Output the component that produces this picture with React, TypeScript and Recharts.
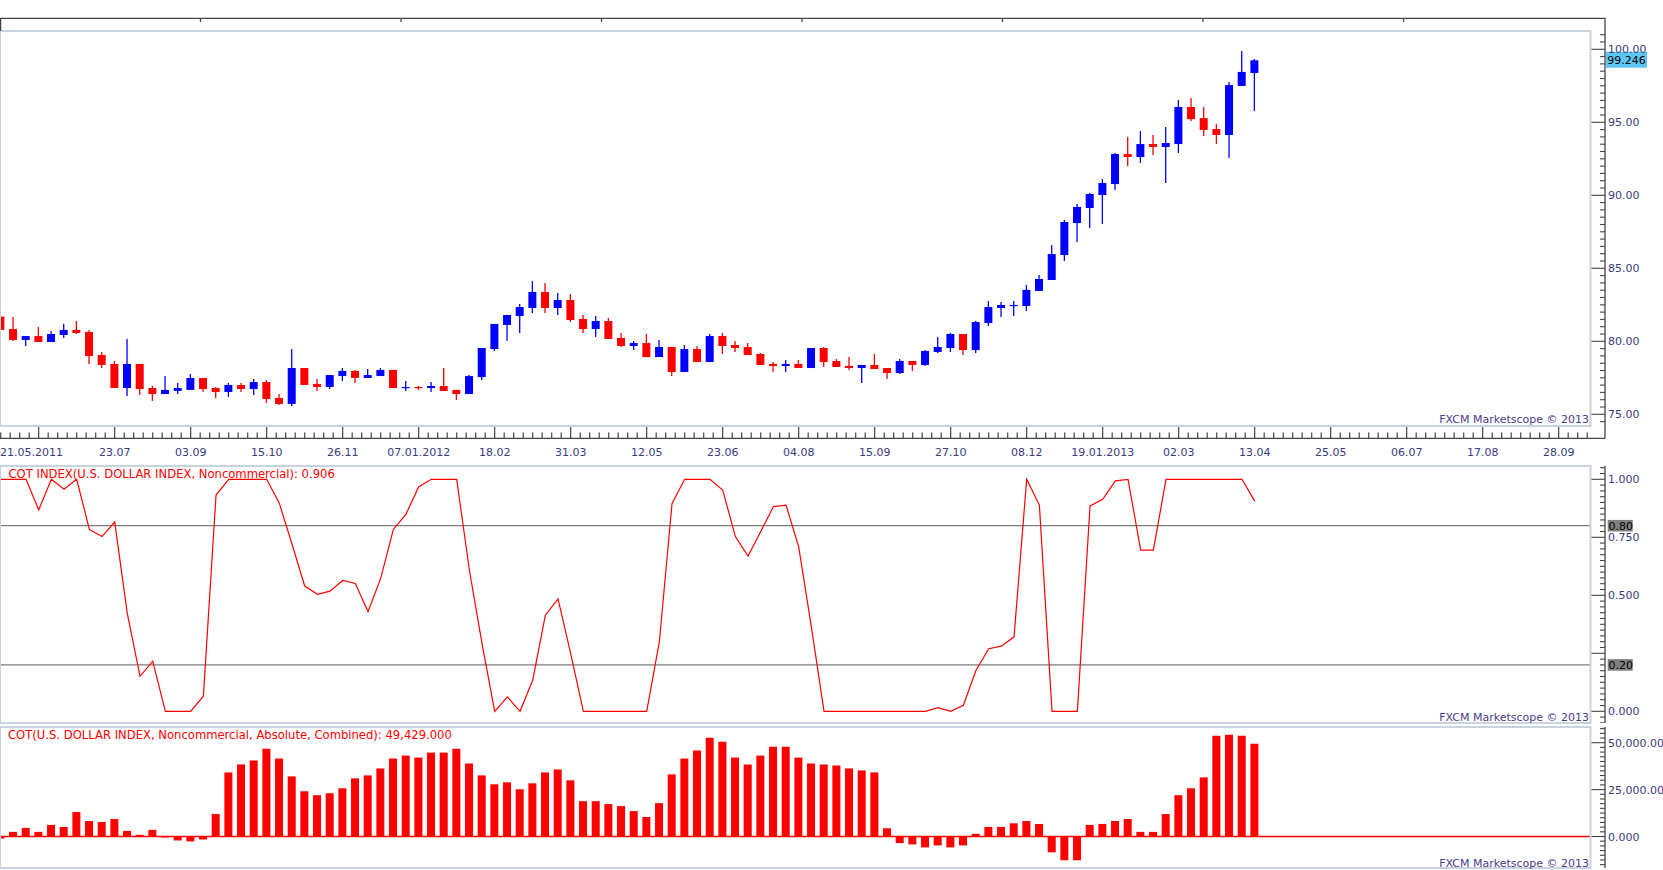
import React from 'react';
import { ComposedChart, Bar, Line, XAxis, YAxis, CartesianGrid, ReferenceLine } from 'recharts';

// ---------- DATA (weekly, 21.05.2011 .. 13.04.2013) ----------
const opens = [81.69, 80.84, 80.09, 80.36, 79.95, 80.43, 80.78, 80.64, 79.06, 78.45,
  76.80, 78.45, 76.80, 76.39, 76.60, 76.67, 77.49, 76.80, 76.53, 77.01,
  76.73, 77.21, 76.12, 75.71, 78.17, 77.08, 76.87, 77.62, 77.97, 77.49,
  77.62, 78.04, 76.80, 76.87, 76.80, 76.94, 76.67, 76.39, 77.55, 79.47,
  81.12, 81.73, 82.28, 83.38, 82.28, 82.83, 81.53, 80.84, 81.39, 80.23,
  79.68, 79.88, 78.92, 79.61, 77.90, 79.47, 78.58, 80.36, 79.75, 79.61,
  79.13, 78.45, 78.31, 78.45, 78.17, 79.54, 78.65, 78.31, 78.17, 78.38,
  78.17, 77.83, 78.65, 78.38, 79.27, 79.54, 80.50, 79.40, 81.25, 82.28,
  82.42, 82.42, 83.45, 84.20, 85.91, 88.10, 89.13, 90.02, 90.77, 92.83,
  92.62, 93.51, 93.31, 93.51, 96.05, 95.29, 94.54, 94.13, 97.49, 98.38];
const closes = [80.78, 80.09, 80.36, 79.95, 80.50, 80.78, 80.57, 78.99, 78.38, 76.80,
  78.45, 76.73, 76.39, 76.67, 76.80, 77.49, 76.73, 76.53, 77.01, 76.73,
  77.21, 76.05, 75.71, 78.17, 77.01, 76.87, 77.69, 77.97, 77.49, 77.69,
  78.04, 76.80, 76.87, 76.80, 76.94, 76.60, 76.39, 77.62, 79.54, 81.19,
  81.80, 82.35, 83.38, 82.28, 82.83, 81.46, 80.84, 81.39, 80.16, 79.68,
  79.88, 78.92, 79.61, 77.90, 79.47, 78.58, 80.36, 79.68, 79.54, 79.06,
  78.38, 78.31, 78.45, 78.17, 79.54, 78.58, 78.24, 78.17, 78.38, 78.10,
  77.83, 78.65, 78.38, 79.34, 79.61, 80.50, 79.40, 81.32, 82.35, 82.49,
  82.49, 83.52, 84.27, 85.98, 88.17, 89.20, 90.09, 90.84, 92.83, 92.62,
  93.51, 93.31, 93.58, 96.05, 95.22, 94.47, 94.13, 97.55, 98.45, 99.246];
const highs = [82.15, 81.67, 80.36, 80.98, 80.71, 81.21, 81.39, 80.78, 79.27, 78.65,
  80.16, 78.45, 76.94, 77.62, 77.15, 77.76, 77.49, 76.87, 77.15, 77.15,
  77.42, 77.35, 76.39, 79.47, 78.17, 77.42, 77.69, 78.17, 78.04, 78.10,
  78.17, 78.04, 77.28, 76.94, 77.21, 78.17, 76.67, 77.69, 79.54, 81.19,
  81.80, 82.55, 84.13, 83.99, 83.31, 83.24, 81.80, 81.73, 81.60, 80.57,
  80.02, 80.50, 80.09, 79.61, 79.75, 79.68, 80.50, 80.57, 80.02, 79.88,
  79.20, 78.58, 78.72, 78.72, 79.54, 79.61, 78.79, 78.92, 78.38, 79.13,
  78.17, 78.79, 78.65, 79.40, 80.29, 80.57, 80.50, 81.39, 82.76, 82.69,
  82.76, 83.86, 84.54, 86.60, 88.31, 89.41, 90.16, 91.12, 92.90, 93.99,
  94.40, 94.13, 94.68, 96.53, 96.66, 96.05, 94.88, 97.76, 99.88, 99.34];
const lows = [80.71, 80.02, 79.68, 79.95, 79.95, 80.23, 80.50, 78.45, 78.17, 76.80,
  76.26, 76.32, 75.91, 76.39, 76.39, 76.67, 76.53, 76.12, 76.19, 76.53,
  76.32, 75.78, 75.64, 75.57, 77.01, 76.60, 76.73, 77.28, 77.15, 77.49,
  77.62, 76.80, 76.60, 76.67, 76.53, 76.60, 75.98, 76.39, 77.35, 79.34,
  80.04, 80.57, 81.94, 81.94, 81.80, 81.32, 80.57, 80.29, 80.16, 79.61,
  79.40, 78.92, 78.92, 77.62, 77.90, 78.58, 78.58, 79.13, 79.27, 79.06,
  78.38, 77.90, 77.90, 78.17, 78.17, 78.24, 78.24, 78.03, 77.14, 78.10,
  77.42, 77.76, 77.97, 78.31, 79.20, 79.27, 79.06, 79.20, 81.05, 81.66,
  81.73, 82.08, 83.45, 84.20, 85.50, 86.80, 87.76, 88.03, 90.36, 92.01,
  92.21, 92.76, 90.84, 92.90, 95.09, 94.06, 93.51, 92.56, 97.49, 95.77];
const cotIndex = [1.0, 1.0, 1.0, 0.868, 1.0, 0.957, 1.0, 0.784, 0.753, 0.816,
  0.42, 0.151, 0.216, 0, 0, 0, 0.065, 0.932, 1.0, 1.0,
  1.0, 1.0, 0.896, 0.72, 0.54, 0.504, 0.518, 0.564, 0.551, 0.429,
  0.573, 0.784, 0.85, 0.968, 1.0, 1.0, 1.0, 0.609, 0.292, 0,
  0.062, 0, 0.134, 0.414, 0.485, 0.249, 0, 0, 0, 0,
  0, 0, 0.3, 0.896, 1.0, 1.0, 1.0, 0.954, 0.753, 0.669,
  0.775, 0.882, 0.889, 0.709, 0.364, 0, 0, 0, 0, 0,
  0, 0, 0, 0, 0.016, 0, 0.026, 0.177, 0.27, 0.281,
  0.321, 1.0, 0.889, 0, 0, 0, 0.885, 0.914, 0.993, 1.0,
  0.695, 0.695, 1.0, 1.0, 1.0, 1.0, 1.0, 1.0, 1.0, 0.906];
const cotAbs = [-1056, 2465, 4578, 2465, 6162, 5106, 13028, 8275, 7747, 9331,
  2993, 880, 3521, -528, -2113, -2641, -1585, 11972, 34155, 38381,
  40494, 46832, 41550, 32043, 24120, 22007, 23064, 25705, 30987, 32571,
  36268, 41550, 43135, 42079, 44720, 44720, 46832, 38909, 32571, 27817,
  28874, 25177, 28345, 34155, 35740, 29930, 18838, 18838, 17254, 16198,
  13557, 10387, 17782, 33099, 41550, 45776, 52642, 50529, 42079, 38381,
  43135, 47888, 47888, 42079, 38909, 38381, 37853, 36268, 35211, 34155,
  4400, -3521, -4225, -5810, -4754, -5810, -4754, 1408, 5106, 5106,
  7042, 8275, 6690, -8451, -12676, -12676, 6162, 6690, 8275, 9331,
  2465, 2465, 11972, 22007, 25705, 31515, 53698, 54226, 53698, 49429];

const dateTickWeeks = [0, 9, 15, 21, 27, 33, 39, 45, 51, 57, 63, 69, 75, 81, 87, 93, 99, 105, 111, 117, 123];
const dateTickLabels = ['21.05.2011', '23.07', '03.09', '15.10', '26.11', '07.01.2012', '18.02', '31.03',
  '12.05', '23.06', '04.08', '15.09', '27.10', '08.12', '19.01.2013', '02.03', '13.04', '25.05',
  '06.07', '17.08', '28.09'];
const gridWeeks = [3, 9, 15, 21, 27, 33, 39, 45, 51, 57, 63, 69, 75, 81, 87, 93, 99, 105, 111, 117, 123];
const priceGrid = [75, 80, 85, 90, 95, 100];
const indexGrid = [0, 0.25, 0.5, 0.75, 1];
const indexLabelValues = [0, 0.5, 0.75, 1];
const absGrid = [0, 25000, 50000];
const absLabelValues = [0, 25000, 50000];
const absLabelTexts = ['0.000', '25,000.00', '50,000.00'];

const data = opens.map((o, i) => ({
  i, o, c: closes[i], h: highs[i], l: lows[i], idx: cotIndex[i], cot: cotAbs[i],
}));
const lastClose = closes[closes.length - 1];

// ---------- layout constants ----------
const W = 1663;
const X_DOMAIN: [number, number] = [-0.0553, 125.55];
const P_DOMAIN: [number, number] = [74.199, 101.253];
const I_DOMAIN: [number, number] = [-0.0504, 1.0573];
const A_DOMAIN: [number, number] = [-16791, 58369];
const FONT = "'DejaVu Sans', Verdana, sans-serif";
const AXIS_TXT = '#3b3a7c';
const AXIS_LINE = '#454545';
const GRID = '#e1e1e1';

const xTicks: number[] = [];
for (let k = -4; k <= 163; k++) xTicks.push(3 + 0.75 * k);
const pTicks: number[] = [];
for (let n = 149; n <= 202; n++) pTicks.push(n / 2);
const iTicks: number[] = [];
for (let n = -2; n <= 42; n++) iTicks.push(Math.round(n * 25) / 1000);
const aTicks: number[] = [];
for (let n = -6; n <= 23; n++) aTicks.push(n * 2500);

const vGen = (p: any) => {
  const ax = p && p.xAxis;
  if (ax && typeof ax.scale === 'function') return gridWeeks.map((v) => ax.scale(v));
  return [];
};
const hGen = (vals: number[]) => (p: any) => {
  const ax = p && p.yAxis;
  if (ax && typeof ax.scale === 'function') return vals.map((v) => ax.scale(v));
  return [];
};

// ---------- custom renderers ----------
const Candle = (props: any) => {
  const { x, y, width, height, payload } = props;
  if (!payload || x == null || y == null || height == null) return null;
  const { o, c, h, l } = payload;
  const top = Math.min(y, y + height);
  const H = Math.abs(height);
  const ratio = H / (h - l || 1);
  const color = c >= o ? '#0000ff' : '#ff0000';
  const bTop = top + (h - Math.max(o, c)) * ratio;
  const bH = Math.max(1.2, Math.abs(o - c) * ratio);
  const cx = x + width / 2;
  return (
    <g>
      <line x1={cx} x2={cx} y1={top} y2={top + H} stroke={color} strokeWidth={1.3} />
      <rect x={x} y={bTop} width={width} height={bH} fill={color} />
    </g>
  );
};

const XTick = (props: any) => {
  const { x, payload } = props;
  const v = payload.value;
  const k = Math.round((v - 3) / 0.75);
  const major = ((k % 8) + 8) % 8 === 0;
  const li = dateTickWeeks.findIndex((w) => Math.abs(w - v) < 1e-6);
  return (
    <g>
      <line x1={x} x2={x} y1={major ? 426 : 432.6} y2={438.3} stroke={AXIS_LINE} strokeWidth={1.2} />
      {li >= 0 && (
        <text x={li === 0 ? 0 : x} y={456.3} textAnchor={li === 0 ? 'start' : 'middle'}
          fontSize={11} fontFamily={FONT} fill={AXIS_TXT}>{dateTickLabels[li]}</text>
      )}
    </g>
  );
};

const PriceTick = (props: any) => {
  const { y, payload } = props;
  const n = Math.round(payload.value * 2);
  const major = n % 10 === 0;
  return (
    <g>
      <line x1={major ? 1591 : 1600} x2={1605} y1={y} y2={y} stroke={AXIS_LINE} strokeWidth={1.1} />
      {major && (
        <text x={1608} y={y + 4} fontSize={11} fontFamily={FONT} fill={AXIS_TXT}>
          {payload.value.toFixed(2)}
        </text>
      )}
    </g>
  );
};

const IndexTick = (props: any) => {
  const { y, payload } = props;
  const v = payload.value;
  const n = Math.round(v / 0.025);
  const major = ((n % 10) + 10) % 10 === 0;
  const lab = indexLabelValues.some((q) => Math.abs(q - v) < 1e-6);
  return (
    <g>
      <line x1={major ? 1591 : 1600} x2={1605} y1={y} y2={y} stroke={AXIS_LINE} strokeWidth={1.1} />
      {lab && (
        <text x={1608} y={y + 4} fontSize={11} fontFamily={FONT} fill={AXIS_TXT}>{v.toFixed(3)}</text>
      )}
    </g>
  );
};

const AbsTick = (props: any) => {
  const { y, payload } = props;
  const v = payload.value;
  const n = Math.round(v / 2500);
  const major = ((n % 10) + 10) % 10 === 0;
  const li = absLabelValues.indexOf(v);
  return (
    <g>
      <line x1={major ? 1591 : 1600} x2={1605} y1={y} y2={y} stroke={AXIS_LINE} strokeWidth={1.1} />
      {li >= 0 && (
        <text x={1608} y={y + 4} fontSize={11} fontFamily={FONT} fill={AXIS_TXT}>{absLabelTexts[li]}</text>
      )}
    </g>
  );
};

const LastBox = (props: any) => {
  const vb = props.viewBox || {};
  const y = vb.y ?? 0;
  const xr = (vb.x ?? 0) + (vb.width ?? 0);
  return (
    <g>
      <rect x={xr + 15} y={y - 8.6} width={41} height={16} fill="#5cc6f6" />
      <text x={xr + 16.3} y={y + 4} fontSize={11} fontFamily={FONT} fill="#000">{lastClose.toFixed(3)}</text>
    </g>
  );
};

const LevelBox = (props: any) => {
  const vb = props.viewBox || {};
  const y = vb.y ?? 0;
  const xr = (vb.x ?? 0) + (vb.width ?? 0);
  return (
    <g>
      <rect x={xr + 16.7} y={y - 5.8} width={25} height={11.6} fill="#808080" />
      <text x={xr + 17.5} y={y + 4} fontSize={11} fontFamily={FONT} fill="#000">{props.text}</text>
    </g>
  );
};

// ---------- App ----------
export default function App() {
  return (
    <div style={{ position: 'absolute', left: 0, top: 0, width: W, height: 870, background: '#fff', overflow: 'hidden' }}>
      {/* Price panel */}
      <div style={{ position: 'absolute', left: 0, top: 0 }}>
        <ComposedChart width={W} height={466} data={data} margin={{ top: 31, right: 0, bottom: 0, left: 0 }}>
          <CartesianGrid stroke={GRID} verticalCoordinatesGenerator={vGen}
            horizontalCoordinatesGenerator={hGen(priceGrid)} />
          <XAxis type="number" dataKey="i" domain={X_DOMAIN} allowDataOverflow ticks={xTicks} interval={0}
            tick={(p: any) => <XTick {...p} />} tickLine={false} axisLine={false} height={40}
            tickSize={0} tickMargin={0} />
          <YAxis orientation="right" type="number" domain={P_DOMAIN} allowDataOverflow ticks={pTicks}
            interval={0} tick={(p: any) => <PriceTick {...p} />} tickLine={false} axisLine={false}
            width={72} tickSize={0} tickMargin={0} />
          <Bar dataKey={(d: any) => [d.l, d.h]} shape={(p: any) => <Candle {...p} />} barSize={8}
            isAnimationActive={false} />
          <ReferenceLine y={lastClose} stroke="none" strokeOpacity={0} label={<LastBox />} />
        </ComposedChart>
      </div>

      {/* COT index panel */}
      <div style={{ position: 'absolute', left: 0, top: 466 }}>
        <ComposedChart width={W} height={257} data={data} margin={{ top: 0, right: 0, bottom: 0, left: 0 }}>
          <CartesianGrid stroke={GRID} verticalCoordinatesGenerator={vGen}
            horizontalCoordinatesGenerator={hGen(indexGrid)} />
          <XAxis hide type="number" dataKey="i" domain={X_DOMAIN} allowDataOverflow />
          <YAxis orientation="right" type="number" domain={I_DOMAIN} allowDataOverflow ticks={iTicks}
            interval={0} tick={(p: any) => <IndexTick {...p} />} tickLine={false} axisLine={false}
            width={72} tickSize={0} tickMargin={0} />
          <ReferenceLine y={0.8} stroke="#7c7c7c" strokeWidth={1.2} label={<LevelBox text="0.80" />} />
          <ReferenceLine y={0.2} stroke="#7c7c7c" strokeWidth={1.2} label={<LevelBox text="0.20" />} />
          <Line type="linear" dataKey="idx" stroke="#ff0000" strokeWidth={1.2} dot={false}
            isAnimationActive={false} />
        </ComposedChart>
      </div>

      {/* COT absolute panel */}
      <div style={{ position: 'absolute', left: 0, top: 727 }}>
        <ComposedChart width={W} height={141} data={data} margin={{ top: 0, right: 0, bottom: 0, left: 0 }}>
          <CartesianGrid stroke={GRID} verticalCoordinatesGenerator={vGen}
            horizontalCoordinatesGenerator={hGen(absGrid)} />
          <XAxis hide type="number" dataKey="i" domain={X_DOMAIN} allowDataOverflow />
          <YAxis orientation="right" type="number" domain={A_DOMAIN} allowDataOverflow ticks={aTicks}
            interval={0} tick={(p: any) => <AbsTick {...p} />} tickLine={false} axisLine={false}
            width={72} tickSize={0} tickMargin={0} />
          <Bar dataKey="cot" fill="#ff0000" barSize={8} isAnimationActive={false} />
          <ReferenceLine y={0} stroke="#ff0000" strokeWidth={1.6} />
        </ComposedChart>
      </div>

      {/* frame overlay */}
      <svg width={W} height={870} style={{ position: 'absolute', left: 0, top: 0, pointerEvents: 'none' }}>
        <g fill="none" stroke="#c9d2df" strokeWidth={2}>
          <rect x={0} y={31} width={1590.5} height={395} />
          <rect x={0} y={466} width={1590.5} height={257} />
          <rect x={0} y={727} width={1590.5} height={141} />
        </g>
        <g stroke={AXIS_LINE} strokeWidth={1.3}>
          <line x1={0} x2={1605.5} y1={18.3} y2={18.3} />
          <line x1={0.6} x2={0.6} y1={18.3} y2={31} />
          {[1, 2, 3, 4, 5, 6, 7].map((k) => (
            <line key={k} x1={200.5 * k} x2={200.5 * k} y1={18.3} y2={22} />
          ))}
          <line x1={1605} x2={1605} y1={18.3} y2={438.3} />
          <line x1={0} x2={1605} y1={438.3} y2={438.3} />
          <line x1={1605} x2={1605} y1={466} y2={723} />
          <line x1={1605} x2={1605} y1={727} y2={868} />
        </g>
        <g fontFamily={FONT}>
          <text x={8.5} y={478} fontSize={11.6} fill="#ff0000">COT INDEX(U.S. DOLLAR INDEX, Noncommercial): 0.906</text>
          <text x={8} y={739} fontSize={11.6} fill="#ff0000">COT(U.S. DOLLAR INDEX, Noncommercial, Absolute, Combined): 49,429.000</text>
          <text x={1589} y={423} fontSize={11} fill="#4a3b8c" textAnchor="end">FXCM Marketscope © 2013</text>
          <text x={1589} y={721} fontSize={11} fill="#4a3b8c" textAnchor="end">FXCM Marketscope © 2013</text>
          <text x={1589} y={866.5} fontSize={11} fill="#4a3b8c" textAnchor="end">FXCM Marketscope © 2013</text>
        </g>
      </svg>
    </div>
  );
}
